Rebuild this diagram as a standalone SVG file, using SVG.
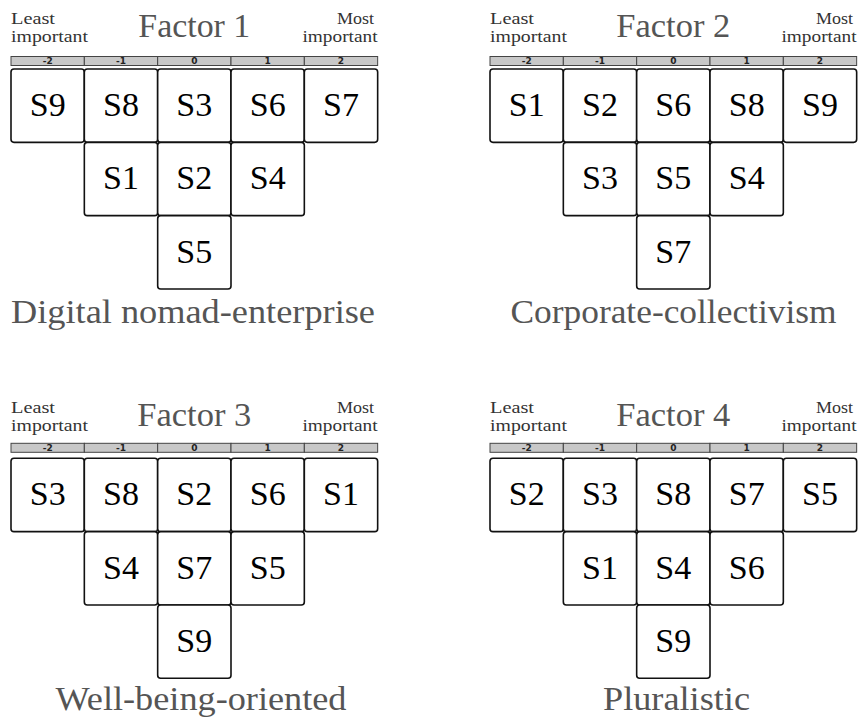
<svg xmlns="http://www.w3.org/2000/svg" width="858" height="717" viewBox="0 0 858 717">
<style>
.bg{fill:#fff}
.bar{fill:#c8c8c8;stroke:#444;stroke-width:1}
.num{font-family:"DejaVu Sans",sans-serif;font-weight:bold;font-size:9px;fill:#222;text-anchor:middle}
.cell{fill:#fff;stroke:#111;stroke-width:1.6}
.lab{font-family:'Liberation Serif','Times New Roman',serif;font-size:34px;fill:#000;text-anchor:middle}
.title{font-family:'Liberation Serif','Times New Roman',serif;font-size:33px;fill:#555;text-anchor:middle}
.small{font-family:'Liberation Serif','Times New Roman',serif;font-size:16px;fill:#333}
.sub{font-family:'Liberation Serif','Times New Roman',serif;font-size:34px;fill:#555;text-anchor:middle}
</style>
<defs>
<g id="hdrA">
<rect class="bar" x="11" y="56.5" width="73.33" height="9"/>
<rect class="bar" x="84.33" y="56.5" width="73.33" height="9"/>
<rect class="bar" x="157.67" y="56.5" width="73.33" height="9"/>
<rect class="bar" x="231" y="56.5" width="73.33" height="9"/>
<rect class="bar" x="304.33" y="56.5" width="73.33" height="9"/>
<text class="num" x="47.7" y="64">-2</text>
<text class="num" x="121" y="64">-1</text>
<text class="num" x="194.3" y="64">0</text>
<text class="num" x="267.7" y="64">1</text>
<text class="num" x="341" y="64">2</text>
<text class="small" x="11" y="23.5" textLength="44" lengthAdjust="spacingAndGlyphs">Least</text>
<text class="small" x="11" y="42" textLength="77" lengthAdjust="spacingAndGlyphs">important</text>
<text class="small" x="337" y="23.5" textLength="37" lengthAdjust="spacingAndGlyphs">Most</text>
<text class="small" x="302.5" y="42" textLength="75" lengthAdjust="spacingAndGlyphs">important</text>
</g>
<g id="hdrB">
<rect class="bar" x="11" y="54" width="73.33" height="9"/>
<rect class="bar" x="84.33" y="54" width="73.33" height="9"/>
<rect class="bar" x="157.67" y="54" width="73.33" height="9"/>
<rect class="bar" x="231" y="54" width="73.33" height="9"/>
<rect class="bar" x="304.33" y="54" width="73.33" height="9"/>
<text class="num" x="47.7" y="61.5">-2</text>
<text class="num" x="121" y="61.5">-1</text>
<text class="num" x="194.3" y="61.5">0</text>
<text class="num" x="267.7" y="61.5">1</text>
<text class="num" x="341" y="61.5">2</text>
<text class="small" x="11" y="23.5" textLength="44" lengthAdjust="spacingAndGlyphs">Least</text>
<text class="small" x="11" y="42" textLength="77" lengthAdjust="spacingAndGlyphs">important</text>
<text class="small" x="337" y="23.5" textLength="37" lengthAdjust="spacingAndGlyphs">Most</text>
<text class="small" x="302.5" y="42" textLength="75" lengthAdjust="spacingAndGlyphs">important</text>
</g>
</defs>
<rect class="bg" x="0" y="0" width="858" height="717"/>

<g id="factor1">
<use href="#hdrA"/>
<text class="title" x="194.3" y="37" textLength="112" lengthAdjust="spacingAndGlyphs">Factor 1</text>
<g id="f1-S9"><rect class="cell" x="11" y="69" width="73.33" height="73.33" rx="3"/><text class="lab" x="47.7" y="116">S9</text></g>
<g id="f1-S8"><rect class="cell" x="84.33" y="69" width="73.33" height="73.33" rx="3"/><text class="lab" x="121" y="116">S8</text></g>
<g id="f1-S3"><rect class="cell" x="157.67" y="69" width="73.33" height="73.33" rx="3"/><text class="lab" x="194.3" y="116">S3</text></g>
<g id="f1-S6"><rect class="cell" x="231" y="69" width="73.33" height="73.33" rx="3"/><text class="lab" x="267.7" y="116">S6</text></g>
<g id="f1-S7"><rect class="cell" x="304.33" y="69" width="73.33" height="73.33" rx="3"/><text class="lab" x="341" y="116">S7</text></g>
<g id="f1-S1"><rect class="cell" x="84.33" y="142.33" width="73.33" height="73.33" rx="3"/><text class="lab" x="121" y="189.3">S1</text></g>
<g id="f1-S2"><rect class="cell" x="157.67" y="142.33" width="73.33" height="73.33" rx="3"/><text class="lab" x="194.3" y="189.3">S2</text></g>
<g id="f1-S4"><rect class="cell" x="231" y="142.33" width="73.33" height="73.33" rx="3"/><text class="lab" x="267.7" y="189.3">S4</text></g>
<g id="f1-S5"><rect class="cell" x="157.67" y="215.67" width="73.33" height="73.33" rx="3"/><text class="lab" x="194.3" y="262.7">S5</text></g>
<text class="sub" x="193" y="322.7" textLength="364" lengthAdjust="spacingAndGlyphs">Digital nomad-enterprise</text>
</g>

<g id="factor2" transform="translate(479,0)">
<use href="#hdrA"/>
<text class="title" x="194.3" y="37" textLength="114" lengthAdjust="spacingAndGlyphs">Factor 2</text>
<g id="f2-S1"><rect class="cell" x="11" y="69" width="73.33" height="73.33" rx="3"/><text class="lab" x="47.7" y="116">S1</text></g>
<g id="f2-S2"><rect class="cell" x="84.33" y="69" width="73.33" height="73.33" rx="3"/><text class="lab" x="121" y="116">S2</text></g>
<g id="f2-S6"><rect class="cell" x="157.67" y="69" width="73.33" height="73.33" rx="3"/><text class="lab" x="194.3" y="116">S6</text></g>
<g id="f2-S8"><rect class="cell" x="231" y="69" width="73.33" height="73.33" rx="3"/><text class="lab" x="267.7" y="116">S8</text></g>
<g id="f2-S9"><rect class="cell" x="304.33" y="69" width="73.33" height="73.33" rx="3"/><text class="lab" x="341" y="116">S9</text></g>
<g id="f2-S3"><rect class="cell" x="84.33" y="142.33" width="73.33" height="73.33" rx="3"/><text class="lab" x="121" y="189.3">S3</text></g>
<g id="f2-S5"><rect class="cell" x="157.67" y="142.33" width="73.33" height="73.33" rx="3"/><text class="lab" x="194.3" y="189.3">S5</text></g>
<g id="f2-S4"><rect class="cell" x="231" y="142.33" width="73.33" height="73.33" rx="3"/><text class="lab" x="267.7" y="189.3">S4</text></g>
<g id="f2-S7"><rect class="cell" x="157.67" y="215.67" width="73.33" height="73.33" rx="3"/><text class="lab" x="194.3" y="262.7">S7</text></g>
<text class="sub" x="194.5" y="322.7" textLength="326" lengthAdjust="spacingAndGlyphs">Corporate-collectivism</text>
</g>

<g id="factor3" transform="translate(0,389.3)">
<use href="#hdrB"/>
<text class="title" x="194.3" y="37" textLength="114" lengthAdjust="spacingAndGlyphs">Factor 3</text>
<g id="f3-S3"><rect class="cell" x="11" y="69" width="73.33" height="73.33" rx="3"/><text class="lab" x="47.7" y="116">S3</text></g>
<g id="f3-S8"><rect class="cell" x="84.33" y="69" width="73.33" height="73.33" rx="3"/><text class="lab" x="121" y="116">S8</text></g>
<g id="f3-S2"><rect class="cell" x="157.67" y="69" width="73.33" height="73.33" rx="3"/><text class="lab" x="194.3" y="116">S2</text></g>
<g id="f3-S6"><rect class="cell" x="231" y="69" width="73.33" height="73.33" rx="3"/><text class="lab" x="267.7" y="116">S6</text></g>
<g id="f3-S1"><rect class="cell" x="304.33" y="69" width="73.33" height="73.33" rx="3"/><text class="lab" x="341" y="116">S1</text></g>
<g id="f3-S4"><rect class="cell" x="84.33" y="142.33" width="73.33" height="73.33" rx="3"/><text class="lab" x="121" y="189.3">S4</text></g>
<g id="f3-S7"><rect class="cell" x="157.67" y="142.33" width="73.33" height="73.33" rx="3"/><text class="lab" x="194.3" y="189.3">S7</text></g>
<g id="f3-S5"><rect class="cell" x="231" y="142.33" width="73.33" height="73.33" rx="3"/><text class="lab" x="267.7" y="189.3">S5</text></g>
<g id="f3-S9"><rect class="cell" x="157.67" y="215.67" width="73.33" height="73.33" rx="3"/><text class="lab" x="194.3" y="262.7">S9</text></g>
<text class="sub" x="201" y="320.7" textLength="291" lengthAdjust="spacingAndGlyphs">Well-being-oriented</text>
</g>

<g id="factor4" transform="translate(479,389.3)">
<use href="#hdrB"/>
<text class="title" x="194.3" y="37" textLength="114" lengthAdjust="spacingAndGlyphs">Factor 4</text>
<g id="f4-S2"><rect class="cell" x="11" y="69" width="73.33" height="73.33" rx="3"/><text class="lab" x="47.7" y="116">S2</text></g>
<g id="f4-S3"><rect class="cell" x="84.33" y="69" width="73.33" height="73.33" rx="3"/><text class="lab" x="121" y="116">S3</text></g>
<g id="f4-S8"><rect class="cell" x="157.67" y="69" width="73.33" height="73.33" rx="3"/><text class="lab" x="194.3" y="116">S8</text></g>
<g id="f4-S7"><rect class="cell" x="231" y="69" width="73.33" height="73.33" rx="3"/><text class="lab" x="267.7" y="116">S7</text></g>
<g id="f4-S5"><rect class="cell" x="304.33" y="69" width="73.33" height="73.33" rx="3"/><text class="lab" x="341" y="116">S5</text></g>
<g id="f4-S1"><rect class="cell" x="84.33" y="142.33" width="73.33" height="73.33" rx="3"/><text class="lab" x="121" y="189.3">S1</text></g>
<g id="f4-S4"><rect class="cell" x="157.67" y="142.33" width="73.33" height="73.33" rx="3"/><text class="lab" x="194.3" y="189.3">S4</text></g>
<g id="f4-S6"><rect class="cell" x="231" y="142.33" width="73.33" height="73.33" rx="3"/><text class="lab" x="267.7" y="189.3">S6</text></g>
<g id="f4-S9"><rect class="cell" x="157.67" y="215.67" width="73.33" height="73.33" rx="3"/><text class="lab" x="194.3" y="262.7">S9</text></g>
<text class="sub" x="197.5" y="320.7" textLength="147" lengthAdjust="spacingAndGlyphs">Pluralistic</text>
</g>
</svg>
